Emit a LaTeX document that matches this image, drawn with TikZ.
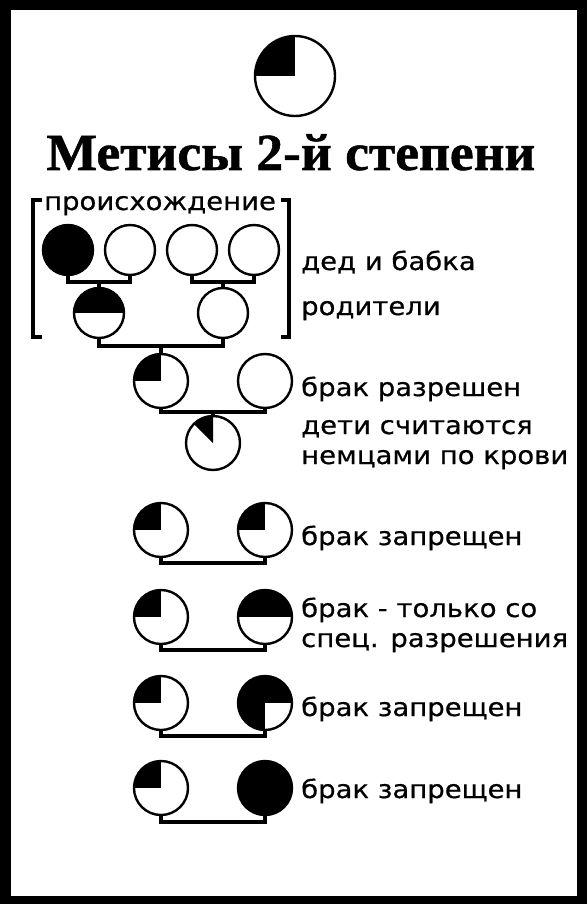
\documentclass[tikz,border=0pt]{standalone}
\usepackage{fontspec}
\setmainfont{Liberation Serif}
\newfontfamily\labfont[FakeStretch=1.1,FakeBold=0.6]{DejaVu Sans}
\newfontfamily\titlefont[FakeStretch=1.03,FakeBold=1]{Liberation Serif Bold}
\begin{document}
\begin{tikzpicture}[x=1pt,y=1pt,
  pc/.style={circle,draw=black,line width=2.4pt,inner sep=0pt,fill=white},
  small/.style={pc,minimum size=50pt},
  mid/.style={pc,minimum size=54pt},
  big/.style={pc,minimum size=80pt},
  fq/.style={path picture={\fill[black] (path picture bounding box.center) rectangle (path picture bounding box.north west);}},
  fh/.style={path picture={\fill[black] (path picture bounding box.west) rectangle (path picture bounding box.north east);}},
  ftq/.style={path picture={\fill[black] (path picture bounding box.north west) rectangle (path picture bounding box.east);\fill[black] (path picture bounding box.west) rectangle (path picture bounding box.south);}},
  fe/.style={path picture={\fill[black] (path picture bounding box.center) -- (path picture bounding box.north) -- (path picture bounding box.north west) -- cycle;}},
  ff/.style={fill=black},
  conn/.style={draw=black,line width=3.4pt},
  brk/.style={draw=black,line width=3.2pt},
  lab/.style={anchor=base west,inner sep=0pt,font=\labfont\fontsize{25}{30}\selectfont,align=left},
]
\useasboundingbox (0,0) rectangle (587,-904);
\fill[black] (0,0) rectangle (587,-904);
\fill[white] (11,-10) rectangle (577,-896);

% top symbol and title
\node[big,fq] (top) at (295,-76) {};
\node[anchor=base,inner sep=0pt,font=\titlefont\fontsize{52}{58}\selectfont] (title) at (291,-170) {Метисы 2-й степени};

% bracket
\node[anchor=base,inner sep=0pt,font=\labfont\fontsize{25}{30}\selectfont] (orig) at (160,-210) {происхождение};
\coordinate (bl1) at (42,-200);
\coordinate (bl2) at (42,-337);
\coordinate (br1) at (281,-200);
\coordinate (br2) at (281,-337);
\draw[brk] (bl1) -- ++(-9,0) |- (bl2);
\draw[brk] (br1) -- ++(8,0) |- (br2);

% grandparents
\node[small,ff] (g1) at (68,-250) {};
\node[small] (g2) at (130,-250) {};
\node[small] (g3) at (192,-250) {};
\node[small] (g4) at (254,-250) {};
% parents
\node[small,fh] (p1) at (99,-313) {};
\node[small] (p2) at (223,-313) {};
\coordinate (m1) at (99,-282);
\coordinate (m2) at (223,-282);
\draw[conn] (g1.south) |- (m1) -| (g2.south);
\draw[conn] (m1) -- (p1.north);
\draw[conn] (g3.south) |- (m2) -| (g4.south);
\draw[conn] (m2) -- (p2.north);

% first marriage
\node[mid,fq] (a1) at (161,-381) {};
\node[mid] (b1) at (265,-381) {};
\coordinate (m3) at (161,-346);
\draw[conn] (p1.south) |- (m3) -| (p2.south);
\draw[conn] (m3) -- (a1.north);
\node[mid,fe] (c1) at (213,-443) {};
\coordinate (m4) at (213,-412);
\draw[conn] (a1.south) |- (m4) -| (b1.south);
\draw[conn] (m4) -- (c1.north);

% pairs
\node[mid,fq] (a2) at (161,-530) {};
\node[mid,fq] (b2) at (265,-530) {};
\coordinate (m5) at (213,-563);
\draw[conn] (a2.south) |- (m5) -| (b2.south);

\node[mid,fq] (a3) at (161,-617) {};
\node[mid,fh] (b3) at (265,-617) {};
\coordinate (m6) at (213,-650);
\draw[conn] (a3.south) |- (m6) -| (b3.south);

\node[mid,fq] (a4) at (161,-703) {};
\node[mid,ftq] (b4) at (265,-703) {};
\coordinate (m7) at (213,-736);
\draw[conn] (a4.south) |- (m7) -| (b4.south);

\node[mid,fq] (a5) at (161,-788) {};
\node[mid,ff] (b5) at (265,-788) {};
\coordinate (m8) at (213,-822);
\draw[conn] (a5.south) |- (m8) -| (b5.south);

% labels
\node[lab] (t1) at (301,-270) {дед и бабка};
\node[lab] (t2) at (301,-315) {родители};
\node[lab] (t3) at (301,-396) {брак разрешен};
\node[lab] (t4) at (301,-464) {дети считаются\\немцами по крови};
\node[lab] (t5) at (301,-545) {брак запрещен};
\node[lab] (t6) at (301,-647) {брак - только со\\спец. разрешения};
\node[lab] (t7) at (301,-716) {брак запрещен};
\node[lab] (t8) at (301,-798) {брак запрещен};
\end{tikzpicture}
\end{document}
